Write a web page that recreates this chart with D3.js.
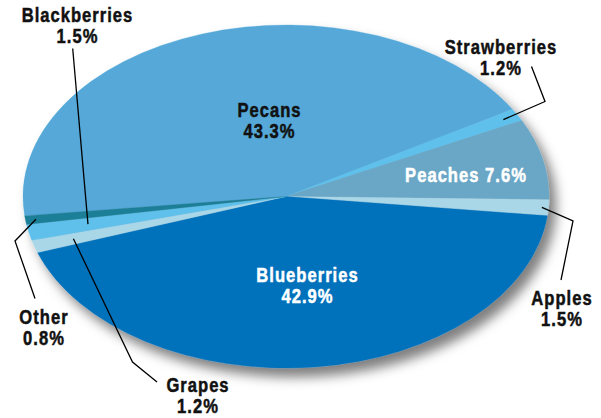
<!DOCTYPE html>
<html>
<head>
<meta charset="utf-8">
<script src="https://cdn.jsdelivr.net/npm/d3@7"></script>
<style>
  html, body { margin: 0; padding: 0; background: #ffffff; }
  svg { display: block; }
  text { font-family: "Liberation Sans", Arial, sans-serif; font-weight: bold; }
</style>
</head>
<body>
<svg id="chart" width="601" height="418"></svg>
<script>
// ---- data ----
const categories = ["Pecans", "Strawberries", "Peaches", "Apples", "Blueberries", "Grapes", "Blackberries", "Other"];
const shares = [43.3, 1.2, 7.6, 1.5, 42.9, 1.2, 1.5, 0.8];
const valueLabels = ["43.3%", "1.2%", "7.6%", "1.5%", "42.9%", "1.2%", "1.5%", "0.8%"];
const colors = ["#54a8d8", "#5fc0eb", "#6aa6c5", "#a9d7e8", "#0071bb", "#a9d7e8", "#5fc0eb", "#1f7f98"];

// ---- layout (positions only) ----
const W = 601, H = 418;
const cx = 286, cy = 196.5, rx = 263, ry = 171.5;
const startDeg = -96.5;
const labelLayout = {
  "Pecans":       {x: 269.5, y: 116.5, fill: "#111"},
  "Strawberries": {x: 501,   y: 53.5,  fill: "#111", lead: {r: 0.94, pts: [[545, 101.5], [531.5, 66.5]]}},
  "Peaches":      {x: 466,   y: 181.5, fill: "#fff", inline: true},
  "Apples":       {x: 562,   y: 305,   fill: "#111", lead: {r: 0.975, pts: [[573, 221], [561, 280]]}},
  "Blueberries":  {x: 307.5, y: 281.5, fill: "#fff"},
  "Grapes":       {x: 198,   y: 391.5, fill: "#111", lead: {r: 0.845, pts: [[132.5, 362], [157, 382]]}},
  "Blackberries": {x: 77.5,  y: 21.5,  fill: "#111", lead: {r: 0.77, pts: [[72.7, 48.5]]}},
  "Other":        {x: 44,    y: 324,   fill: "#111", lead: {r: 0.96, pts: [[15, 241], [35, 298.5]]}}
};
const squeeze = 0.85;

const svg = d3.select("#chart");
const defs = svg.append("defs");
const f = defs.append("filter").attr("id", "shadow")
  .attr("x", "-10%").attr("y", "-10%").attr("width", "125%").attr("height", "130%");
f.append("feDropShadow").attr("dx", 7).attr("dy", 9).attr("stdDeviation", 6)
  .attr("flood-color", "#000").attr("flood-opacity", 0.5);

const data = categories.map((c, i) => ({cat: c, value: shares[i], label: valueLabels[i], color: colors[i]}));

const pie = d3.pie().sort(null).value(d => d.value)
  .startAngle(startDeg * Math.PI / 180)
  .endAngle(startDeg * Math.PI / 180 + 2 * Math.PI);
const arcs = pie(data);

const arc = d3.arc().innerRadius(0).outerRadius(rx);

const outer = svg.append("g").attr("filter", "url(#shadow)");
const pieG = outer.append("g")
  .attr("transform", `translate(${cx},${cy}) scale(1,${ry / rx})`);

pieG.selectAll("path.slice").data(arcs).enter().append("path")
  .attr("class", "slice")
  .attr("d", arc)
  .attr("fill", d => d.data.color)
  .attr("stroke", d => d.data.color)
  .attr("stroke-width", 0.4);

// leader lines
const lineG = svg.append("g");
arcs.forEach(a => {
  const L = labelLayout[a.data.cat];
  if (!L.lead) return;
  const r = rx * L.lead.r;
  const c = d3.arc().innerRadius(r).outerRadius(r).centroid(a);
  const anchor = [cx + c[0], cy + c[1] * ry / rx];
  const pts = [anchor].concat(L.lead.pts);
  lineG.append("path")
    .attr("d", d3.line()(pts))
    .attr("fill", "none")
    .attr("stroke", "#000")
    .attr("stroke-width", 1.3);
});

// labels
const textG = svg.append("g");
arcs.forEach(a => {
  const L = labelLayout[a.data.cat];
  const g = textG.append("g").attr("transform", `translate(${L.x},${L.y}) scale(${squeeze},1)`);
  const t = g.append("text")
    .attr("text-anchor", "middle")
    .attr("fill", L.fill)
    .attr("stroke", L.fill)
    .attr("stroke-width", 0.5)
    .style("font-size", "19.5px")
    .style("letter-spacing", "1.2px");
  if (L.inline) {
    t.attr("x", 0).attr("y", 0).text(a.data.cat + " " + a.data.label);
  } else {
    t.append("tspan").attr("x", 0).attr("y", 0).text(a.data.cat);
    t.append("tspan").attr("x", 0).attr("y", 21.2).text(a.data.label);
  }
});
</script>
</body>
</html>
